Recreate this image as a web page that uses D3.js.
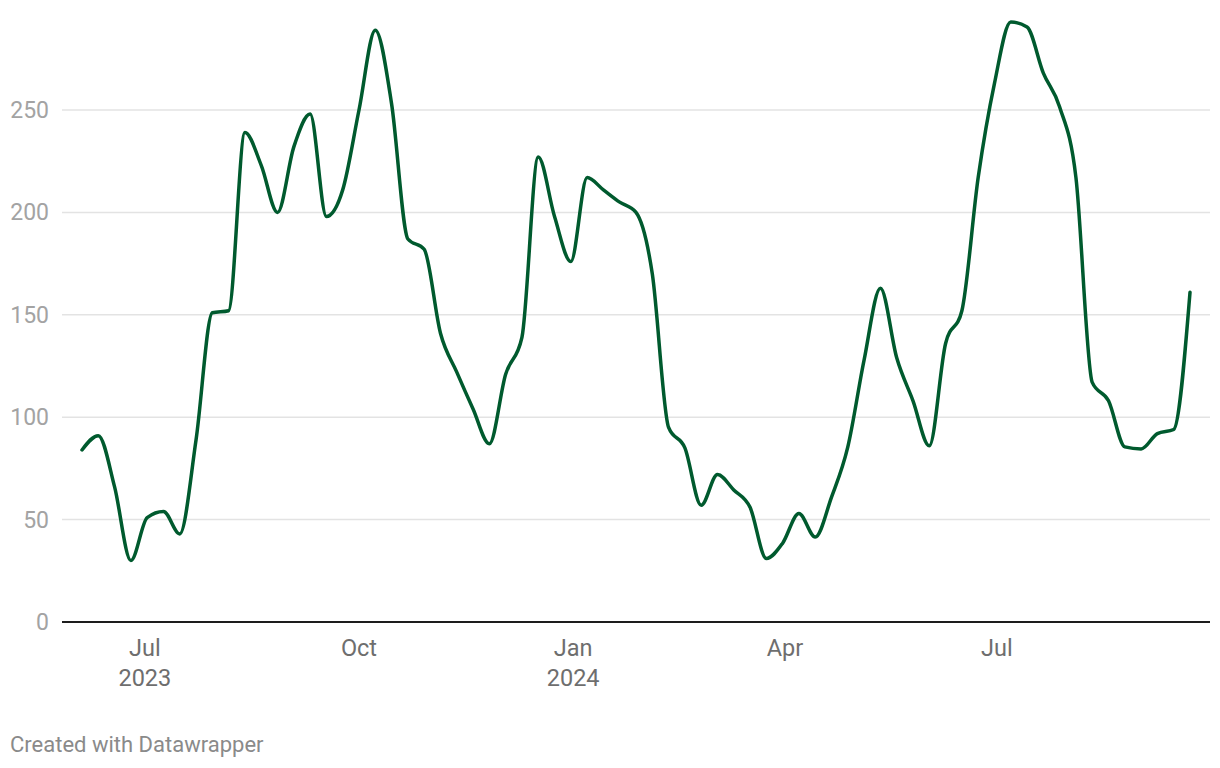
<!DOCTYPE html>
<html>
<head>
<meta charset="utf-8">
<script src="https://cdn.jsdelivr.net/npm/d3@7"></script>
<style>
  html, body { margin: 0; padding: 0; background: #fff; }
  svg { display: block; font-family: Roboto, "Noto Sans", sans-serif; }
</style>
</head>
<body>
<svg id="chart" width="1220" height="768"></svg>
<script>
// Weekly series, starting 2023-06-04
const startDate = "2023-06-04";
const values = [
  84, 91, 66, 30, 51, 54, 43, 89, 151, 152,
  239, 223, 200, 232, 248, 198, 211, 250, 289, 253,
  187, 182, 141, 122, 104, 87, 121, 139, 227, 198,
  176, 217, 211, 205, 200, 170, 95, 85, 57, 72,
  64.5, 56, 31, 38.5, 53, 41.5, 61, 85.5, 128, 163,
  129, 108, 86, 136, 152, 217, 263, 293, 290.5, 268,
  251.5, 217, 117, 108, 85.5, 84.5, 92, 94, 161
];
const yTicks = [0, 50, 100, 150, 200, 250];
const xTickDates = ["2023-07-01", "2023-10-01", "2024-01-01", "2024-04-01", "2024-07-01"];
const xTickLabels = [["Jul", "2023"], ["Oct"], ["Jan", "2024"], ["Apr"], ["Jul"]];

const parse = d3.utcParse("%Y-%m-%d");
const t0 = parse(startDate);
const data = values.map((v, i) => ({ date: d3.utcDay.offset(t0, i * 7), value: v }));

const svg = d3.select("#chart");
const plotLeft = 62, plotRight = 1210;

const x = d3.scaleUtc()
  .domain([data[0].date, data[data.length - 1].date])
  .range([82, 1190]);
const y = d3.scaleLinear().domain([0, 250]).range([622, 110]);

// gridlines
svg.append("g")
  .selectAll("line")
  .data(yTicks.filter(d => d !== 0))
  .join("line")
  .attr("x1", plotLeft).attr("x2", plotRight)
  .attr("y1", d => y(d)).attr("y2", d => y(d))
  .attr("stroke", "#e3e3e3").attr("stroke-width", 1.5);

// y labels
svg.append("g")
  .selectAll("text")
  .data(yTicks)
  .join("text")
  .attr("x", 49)
  .attr("y", d => y(d))
  .attr("dy", "0.35em")
  .attr("text-anchor", "end")
  .attr("fill", "#a3a3a3")
  .attr("font-size", 23)
  .text(d => d);

// baseline
svg.append("line")
  .attr("x1", plotLeft).attr("x2", plotRight)
  .attr("y1", y(0)).attr("y2", y(0))
  .attr("stroke", "#1d1d1d").attr("stroke-width", 2);

// x labels
const xg = svg.append("g");
xTickDates.forEach((ds, i) => {
  const t = xg.append("text")
    .attr("x", x(parse(ds)))
    .attr("y", 656)
    .attr("text-anchor", "middle")
    .attr("fill", "#6e6e6e")
    .attr("font-size", 23.5);
  xTickLabels[i].forEach((s, j) => {
    t.append("tspan").attr("x", x(parse(ds))).attr("dy", j === 0 ? 0 : 30).text(s);
  });
});

// line
const line = d3.line()
  .x(d => x(d.date))
  .y(d => y(d.value))
  .curve(d3.curveMonotoneX);

svg.append("path")
  .datum(data)
  .attr("d", line)
  .attr("fill", "none")
  .attr("stroke", "#005a2e")
  .attr("stroke-width", 3.5)
  .attr("stroke-linejoin", "round")
  .attr("stroke-linecap", "round");

// footer
svg.append("text")
  .attr("x", 10).attr("y", 752)
  .attr("fill", "#8a8a8a")
  .attr("font-size", 22)
  .text("Created with Datawrapper");
</script>
</body>
</html>
